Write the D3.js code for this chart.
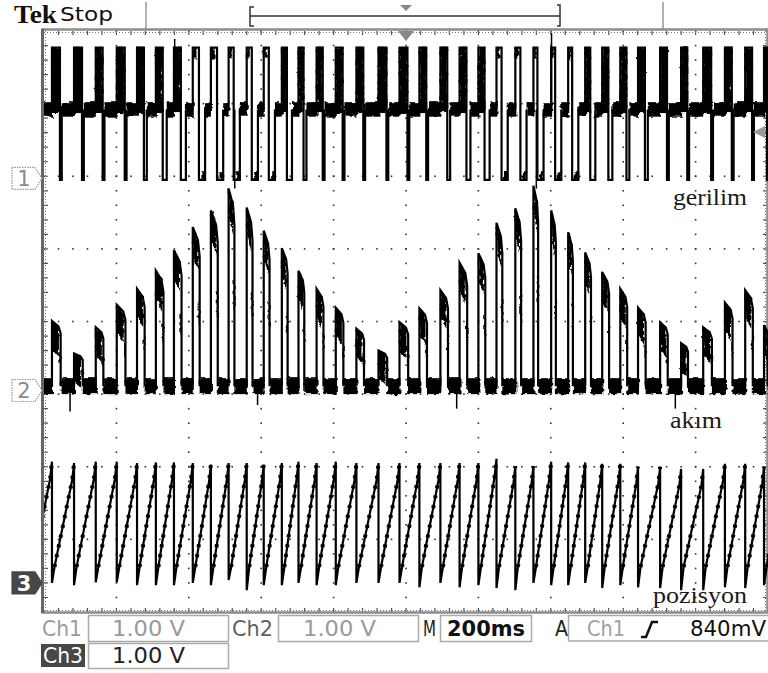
<!DOCTYPE html>
<html>
<head>
<meta charset="utf-8">
<script src="https://cdn.jsdelivr.net/npm/d3@7"></script>
<style>
  body { margin: 0; background: #fff; }
  svg { display: block; }
</style>
</head>
<body>
<svg width="768" height="673"></svg>
<script>
// start of each drive period, ms from the left screen edge (200 ms/div)
const periodStart = [-38, 22, 83, 143, 201, 257, 309, 359, 411, 461, 510, 560, 607, 657, 703, 753, 806, 863, 924, 982,
  1037, 1095, 1148, 1200, 1250, 1302, 1352, 1401, 1448, 1495, 1542, 1592, 1641, 1702, 1760, 1821, 1881, 1937, 1989];

// Ch1 (gerilim): width of high part and of the low dip, ms; 1 = chopped (solid) high block
const ch1HighMs = [20, 22, 22, 19, 22, 19, 19, 19, 17, 17, 14, 14, 14, 14, 14, 17, 19, 19, 22, 22,
  19, 19, 19, 17, 14, 14, 11, 11, 11, 14, 17, 17, 19, 19, 17, 22, 19, 19, 8];
const ch1LowMs = [5, 5, 5, 5, 5, 8, 11, 14, 17, 17, 17, 17, 17, 14, 8, 5, 5, 5, 5, 5,
  5, 8, 11, 14, 17, 17, 17, 17, 17, 14, 11, 8, 8, 5, 5, 5, 5, 5, 3];
const ch1Chopped = [1, 1, 1, 1, 1, 1, 1, 1, 0, 0, 0, 0, 0, 1, 1, 1, 1, 1, 1, 1,
  1, 1, 1, 1, 0, 0, 0, 0, 0, 1, 1, 1, 1, 1, 1, 1, 1, 1, 1];
const ch1Levels = [1.8, 0.95, -0.02]; // high, rest, low (V)
const ch1SpikeMs = [361, 527, 1360, 1402];
const ch1SpikeV = [1.92, -0.14, -0.14, 2.0];

// Ch2 (akım): pulse peak per period, V
const ch2PeakV = [0.9, 0.96, 0.51, 0.87, 1.18, 1.40, 1.65, 1.93, 2.25, 2.48, 2.78, 2.52, 2.20, 1.96, 1.65, 1.40, 1.14, 0.85, 0.55, 0.94,
  1.13, 1.38, 1.76, 1.89, 2.31, 2.51, 2.82, 2.48, 2.18, 1.90, 1.63, 1.40, 1.14, 0.94, 0.65, 0.87, 1.21, 1.38, 0.9];
const ch2RestV = 0.06;
const ch2SpikeMs = [72, 590, 1140, 1744];
const ch2SpikeV = [-0.29, -0.2, -0.25, -0.25];

// Ch3 (pozisyon): sawtooth top before each drop and bottom after it, V
const ch3TopV = [1.67, 1.65, 1.67, 1.67, 1.65, 1.66, 1.66, 1.65, 1.63, 1.65, 1.65, 1.63, 1.65, 1.67, 1.65, 1.67, 1.65, 1.65, 1.65,
  1.65, 1.65, 1.65, 1.65, 1.71, 1.61, 1.61, 1.67, 1.66, 1.66, 1.64, 1.64, 1.60, 1.60, 1.57, 1.57, 1.64, 1.64, 1.60, 1.65];
const ch3BottomV = [0, 0, -0.03, 0.01, 0.01, -0.03, -0.03, -0.03, 0, -0.03, 0.04, -0.1, -0.03, -0.03, 0, -0.03, -0.03, 0, 0, 0,
  -0.06, 0, -0.06, -0.03, -0.07, -0.1, 0, -0.03, -0.03, 0, -0.07, -0.03, -0.06, -0.07, -0.1, -0.1, -0.06, -0.07, -0.03];
const ch3RampV = [0.22, 1.42]; // ramp knee levels above bottom / below top

// channel ground marker positions (divisions from centre) and scale
const chOffsetDiv = [1.97, -0.95, -3.6];
const voltsPerDiv = [1, 1, 1];
const markerLabels = ["1", "2", "3"];
const traceLabels = ["gerilim", "akım", "pozisyon"];

const svg = d3.select("svg");
const x = d3.scaleLinear().domain([0, 2000]).range([44, 768]);
const y = d3.scaleLinear().domain([-4, 4]).range([612, 31]);
const level = (ch, v) => y(chOffsetDiv[ch] + v / voltsPerDiv[ch]);
const nextStart = i => (i + 1 < periodStart.length ? periodStart[i + 1] : periodStart[i] + 55);

const defs = svg.append("defs");
defs.append("clipPath").attr("id", "screen")
  .append("rect").attr("x", 44).attr("y", 31).attr("width", 724).attr("height", 581);

// ragged edges for the noisy parts of the traces
const f = defs.append("filter").attr("id", "noise")
  .attr("filterUnits", "userSpaceOnUse")
  .attr("x", 0).attr("y", 0).attr("width", 768).attr("height", 673);
f.append("feTurbulence").attr("type", "fractalNoise").attr("baseFrequency", "0.12 0.2")
  .attr("numOctaves", 2).attr("seed", 4).attr("result", "n");
f.append("feDisplacementMap").attr("in", "SourceGraphic").attr("in2", "n")
  .attr("scale", 5).attr("xChannelSelector", "R").attr("yChannelSelector", "G");

// ---- header ----
svg.append("text").attr("x", 14).attr("y", 23).text("Tek")
  .attr("font-family", "Liberation Serif, serif").attr("font-weight", "bold")
  .attr("font-size", 25).attr("textLength", 43).attr("lengthAdjust", "spacingAndGlyphs").attr("fill", "#111");
svg.append("text").attr("x", 60).attr("y", 21).text("Stop")
  .attr("font-family", "DejaVu Sans, sans-serif").attr("font-size", 20)
  .attr("textLength", 53).attr("lengthAdjust", "spacingAndGlyphs").attr("fill", "#111");

svg.append("line").attr("x1", 146).attr("x2", 146).attr("y1", 2).attr("y2", 29).attr("stroke", "#999").attr("stroke-width", 1.5);
svg.append("line").attr("x1", 663).attr("x2", 663).attr("y1", 2).attr("y2", 29).attr("stroke", "#999").attr("stroke-width", 1.5);
svg.append("path")
  .attr("d", "M254,7H250V26H254M250,16H560M557,5H560V26H557")
  .attr("fill", "none").attr("stroke", "#333").attr("stroke-width", 1.5);
svg.append("path").attr("d", "M400,5H412L406,11Z").attr("fill", "#888");

// ---- graticule ----
const grid = svg.append("g");
d3.range(200, 2000, 200).forEach(t => {
  grid.selectAll(null).data(d3.range(-4, 4.001, 0.2)).enter().append("rect")
    .attr("x", x(t) - 0.8).attr("y", d => y(d) - 0.8)
    .attr("width", 1.6).attr("height", 1.6).attr("fill", "#333");
});
d3.range(-3, 4, 1).forEach(dv => {
  grid.selectAll(null).data(d3.range(0, 2001, 40)).enter().append("rect")
    .attr("x", d => x(d) - 0.8).attr("y", y(dv) - 0.8)
    .attr("width", 1.6).attr("height", 1.6).attr("fill", "#333");
});
// border ticks
grid.selectAll(null).data(d3.range(40, 2000, 40)).enter().append("path")
  .attr("d", d => `M${x(d)},31V35M${x(d)},608V612`).attr("stroke", "#555").attr("stroke-width", 1.2);
grid.selectAll(null).data(d3.range(-3.8, 4, 0.2)).enter().append("path")
  .attr("d", d => `M44,${y(d)}H48M763,${y(d)}H767`).attr("stroke", "#555").attr("stroke-width", 1.2);
grid.append("path").attr("d", "M44,32.5H767M44,610.5H767M45.5,31V612M765.5,31V612")
  .attr("fill", "none").attr("stroke", "#777").attr("stroke-width", 1).attr("stroke-dasharray", "1 2");
grid.append("path").attr("d", "M42.5,29.5H767.5V612.5H42.5Z")
  .attr("fill", "none").attr("stroke", "#8c8c8c").attr("stroke-width", 2.5);
grid.append("path").attr("d", "M42.5,29V613").attr("stroke", "#666").attr("stroke-width", 3);

// ---- traces ----
const traces = svg.append("g").attr("clip-path", "url(#screen)");
const bands = traces.append("g").attr("filter", "url(#noise)");
const lines = traces.append("g");
const line = ch => d3.line().x(d => x(d[0])).y(d => level(ch, d[1]));

const idx = d3.range(periodStart.length);
const [hiV, restV, loV] = ch1Levels;

// Ch1 resting noise band and chopped blocks
bands.selectAll(null).data(idx).enter().append("rect")
  .attr("x", i => x(periodStart[i] + ch1HighMs[i] + ch1LowMs[i]))
  .attr("width", i => x(nextStart(i)) - x(periodStart[i] + ch1HighMs[i] + ch1LowMs[i]) + 1)
  .attr("y", level(0, restV + 0.1)).attr("height", level(0, restV - 0.1) - level(0, restV + 0.1))
  .attr("fill", "#000");
bands.selectAll(null).data(idx.filter(i => ch1Chopped[i])).enter().append("rect")
  .attr("x", i => x(periodStart[i])).attr("width", i => x(periodStart[i] + ch1HighMs[i]) - x(periodStart[i]))
  .attr("y", level(0, hiV)).attr("height", level(0, restV - 0.05) - level(0, hiV))
  .attr("fill", "#000");
bands.selectAll(null).data(idx.filter(i => !ch1Chopped[i])).enter().append("rect")
  .attr("x", i => x(periodStart[i])).attr("width", i => x(periodStart[i] + ch1HighMs[i] * 0.6) - x(periodStart[i]))
  .attr("y", level(0, hiV)).attr("height", level(0, hiV - 0.15) - level(0, hiV))
  .attr("fill", "#000");
bands.selectAll(null).data(idx.filter(i => !ch1Chopped[i])).enter().append("rect")
  .attr("x", i => x(periodStart[i] + ch1HighMs[i] + ch1LowMs[i] * 0.4))
  .attr("width", i => x(ch1LowMs[i] * 0.6) - x(0))
  .attr("y", level(0, loV + 0.12)).attr("height", level(0, loV) - level(0, loV + 0.12))
  .attr("fill", "#000");

lines.selectAll(null).data(idx).enter().append("path")
  .attr("d", i => {
    const s = periodStart[i], a = s + ch1HighMs[i], b = a + ch1LowMs[i];
    return line(0)([[s, restV], [s, hiV], [a, hiV], [a, loV], [b, loV], [b, restV]]);
  })
  .attr("fill", "none").attr("stroke", "#000").attr("stroke-width", 2.2);
lines.selectAll(null).data(d3.range(ch1SpikeMs.length)).enter().append("path")
  .attr("d", k => line(0)([[ch1SpikeMs[k], restV], [ch1SpikeMs[k], ch1SpikeV[k]]]))
  .attr("stroke", "#000").attr("stroke-width", 1.5);

// Ch2 current pulses
bands.selectAll(null).data(idx).enter().append("rect")
  .attr("x", i => x(periodStart[i] + ch1HighMs[i] + 2))
  .attr("width", i => x(nextStart(i)) - x(periodStart[i] + ch1HighMs[i] + 2) + 1)
  .attr("y", level(1, ch2RestV + 0.11)).attr("height", level(1, ch2RestV - 0.11) - level(1, ch2RestV + 0.11))
  .attr("fill", "#000");
bands.selectAll(null).data(idx).enter().append("path")
  .attr("d", i => {
    const s = periodStart[i], w = ch1HighMs[i] + 2, p = ch2PeakV[i];
    return line(1)([[s, p], [s + w * 0.8, p * 0.92], [s + w * 0.8, p * 0.92 - 0.42], [s, p - 0.38]]) + "Z";
  })
  .attr("fill", "#000");
bands.selectAll(null).data(idx).enter().append("path")
  .attr("d", i => {
    const s = periodStart[i], w = ch1HighMs[i] + 2, p = ch2PeakV[i];
    return line(1)([[s + w * 0.85, p * 0.55], [s + w * 1.05, p * 0.55], [s + w * 1.05, p * 0.4], [s + w * 0.85, p * 0.4]]) + "Z";
  })
  .attr("fill", "#000");
lines.selectAll(null).data(idx).enter().append("path")
  .attr("d", i => {
    const s = periodStart[i], w = ch1HighMs[i] + 2, p = ch2PeakV[i];
    return line(1)([[s, ch2RestV], [s, p], [s + w * 0.75, p * 0.92], [s + w, p * 0.82], [s + w, ch2RestV]]);
  })
  .attr("fill", "none").attr("stroke", "#000").attr("stroke-width", 2.2);
lines.selectAll(null).data(d3.range(ch2SpikeMs.length)).enter().append("path")
  .attr("d", k => line(1)([[ch2SpikeMs[k], ch2RestV], [ch2SpikeMs[k], ch2SpikeV[k]]]))
  .attr("stroke", "#000").attr("stroke-width", 1.5);

// Ch3 position sawtooth
const ch3Pts = [];
const ramps = [];
idx.forEach(i => {
  const s = periodStart[i], e = nextStart(i);
  const r = [[s + 7, ch3RampV[0]], [e - 5, ch3TopV[i] - (1.65 - ch3RampV[1])], [e, ch3TopV[i]]];
  ch3Pts.push([s, ch3BottomV[i]], ...r);
  ramps.push(r);
});
lines.append("path").attr("d", line(2)(ch3Pts))
  .attr("fill", "none").attr("stroke", "#000").attr("stroke-width", 2.2);
lines.selectAll(null).data(ramps).enter().append("path").attr("d", r => line(2)(r))
  .attr("fill", "none").attr("stroke", "#000").attr("stroke-width", 4).attr("stroke-dasharray", "3 7");

// trigger position and level markers
svg.append("path").attr("d", "M398,31H414L406,41Z").attr("fill", "#888");
svg.append("path").attr("d", `M753,${level(0, 0.64)}L765,${level(0, 0.64) - 6}V${level(0, 0.64) + 6}Z`).attr("fill", "#999");

// channel ground markers
const mk = svg.append("g");
markerLabels.forEach((lab, ch) => {
  const c = level(ch, 0);
  const dark = ch === 2;
  mk.append("path").attr("d", `M12,${c - 11}H35L42,${c}L35,${c + 11}H12Z`)
    .attr("fill", dark ? "#474747" : "#fff").attr("stroke", dark ? "#474747" : "#999")
    .attr("stroke-width", 1.2).attr("stroke-dasharray", dark ? null : "1.5 1");
  mk.append("text").attr("x", 24).attr("y", c + 8).attr("text-anchor", "middle").text(lab)
    .attr("font-family", "DejaVu Sans, sans-serif").attr("font-size", 21)
    .attr("font-weight", dark ? "bold" : "normal").attr("fill", dark ? "#fff" : "#8a8a8a");
});

// trace names
const labelPos = [[673, 205, 74], [670, 428, 52], [653, 603, 94]];
traceLabels.forEach((t, k) => {
  svg.append("text").attr("x", labelPos[k][0]).attr("y", labelPos[k][1]).text(t)
    .attr("font-family", "Liberation Serif, serif").attr("font-size", 23)
    .attr("textLength", labelPos[k][2]).attr("lengthAdjust", "spacingAndGlyphs").attr("fill", "#1a1a1a");
});

// ---- status bar ----
const bar = svg.append("g").attr("font-family", "Liberation Sans Narrow, DejaVu Sans Condensed, sans-serif")
  .attr("font-size", 21);
const boxes = [[88, 615, 140, 26], [278, 615, 140, 26], [440, 615, 91, 26], [88, 643, 140, 25]];
boxes.forEach(b => bar.append("rect").attr("x", b[0] + 0.5).attr("y", b[1] + 0.5).attr("width", b[2]).attr("height", b[3])
  .attr("fill", "none").attr("stroke", "#aaa").attr("stroke-width", 1.5));
bar.append("path").attr("d", "M568.5,641V615.5H768M568.5,641H768").attr("fill", "none").attr("stroke", "#aaa").attr("stroke-width", 1.5);
bar.append("rect").attr("x", 41).attr("y", 644).attr("width", 44).attr("height", 23).attr("fill", "#474747");

const barText = [
  ["Ch1", 42, 636, 40, "#9a9a9a", "normal"],
  ["1.00 V", 112, 636, 73, "#9a9a9a", "normal"],
  ["Ch2", 232, 636, 41, "#606060", "normal"],
  ["1.00 V", 303, 636, 73, "#9a9a9a", "normal"],
  ["M", 423, 636, 13, "#222", "normal"],
  ["200ms", 447, 636, 78, "#111", "bold"],
  ["A", 555, 636, 13, "#222", "normal"],
  ["Ch1", 587, 636, 38, "#a0a0a0", "normal"],
  ["840mV", 690, 636, 76, "#111", "normal"],
  ["Ch3", 43, 663, 40, "#fff", "normal"],
  ["1.00 V", 112, 663, 73, "#222", "normal"]
];
barText.forEach(t => bar.append("text").attr("x", t[1]).attr("y", t[2]).text(t[0])
  .attr("textLength", t[3]).attr("lengthAdjust", "spacingAndGlyphs")
  .attr("fill", t[4]).attr("font-weight", t[5]));
bar.append("path").attr("d", "M641,637H646L652,622H658").attr("fill", "none").attr("stroke", "#111").attr("stroke-width", 2.5);
</script>
</body>
</html>
